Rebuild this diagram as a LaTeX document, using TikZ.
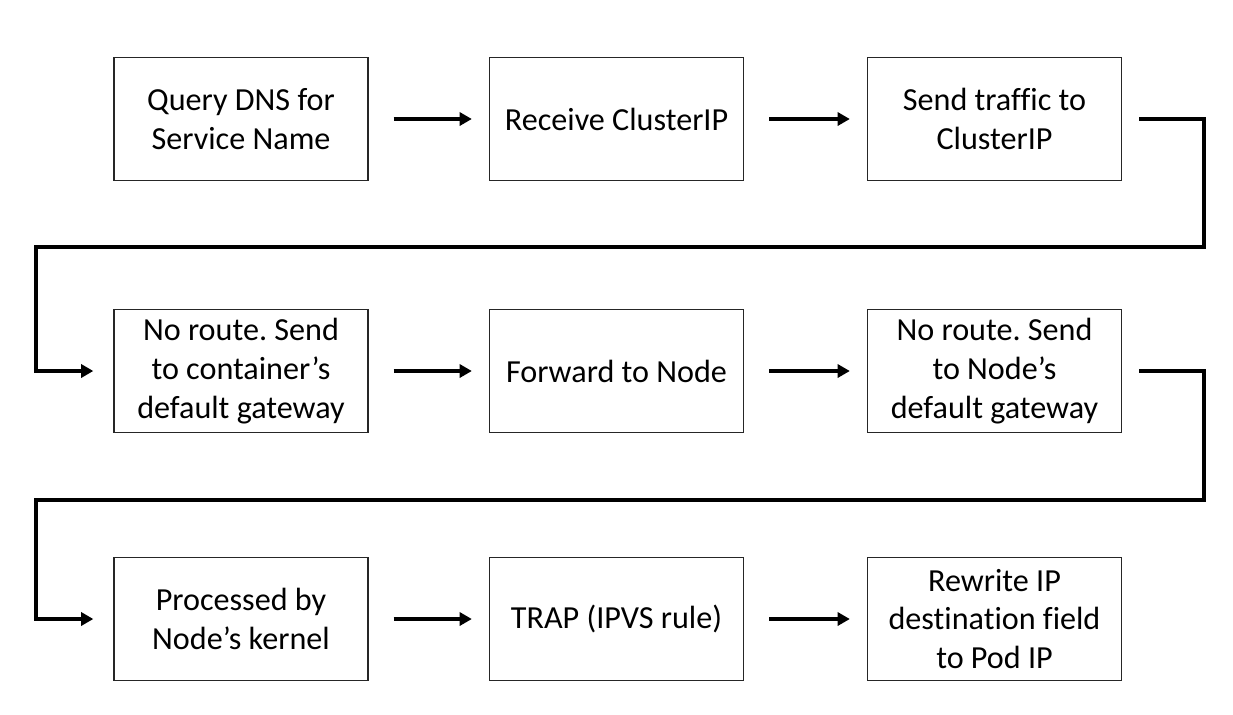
\documentclass[tikz,border=0pt]{standalone}
\usepackage{fontspec}
\setmainfont[Ligatures=CommonOff]{Carlito}
\usetikzlibrary{arrows.meta}
\frenchspacing
\begin{document}
\begin{tikzpicture}[x=0.02cm,y=-0.02cm,
  stepbox/.style={draw=black!85, line width=0.8pt, minimum width=5.08cm, minimum height=2.46cm,
    align=center, inner sep=0pt, font=\fontsize{18.3}{22}\selectfont},
  flow/.style={line width=2.4pt, -{Triangle[length=7pt,width=7.5pt]}, shorten <=0.5cm, shorten >=0.34cm},
  elbow/.style={line width=2.4pt, -{Triangle[length=7pt,width=7.5pt]}, shorten <=0.34cm, shorten >=0.4cm, line join=miter}]
\useasboundingbox (0,0) rectangle (1233,714);
\node[stepbox] (b1) at (241,119) {Query DNS for\\Service Name};
\node[stepbox] (b2) at (616.5,119) {Receive ClusterIP};
\node[stepbox] (b3) at (994.5,119) {Send traffic to\\ClusterIP};
\node[stepbox] (b4) at (241,371) {No route. Send\\to container’s\\default gateway};
\node[stepbox] (b5) at (616.5,371) {Forward to Node};
\node[stepbox] (b6) at (994.5,371) {No route. Send\\to Node’s\\default gateway};
\node[stepbox] (b7) at (241,619) {Processed by\\Node’s kernel};
\node[stepbox] (b8) at (616.5,619) {TRAP (IPVS rule)};
\node[stepbox] (b9) at (994.5,619) {Rewrite IP\\destination field\\to Pod IP};
\coordinate (c1) at (1204,247);
\coordinate (c2) at (36,247);
\coordinate (c3) at (1204,500);
\coordinate (c4) at (36,500);
\draw[flow] (b1) -- (b2);
\draw[flow] (b2) -- (b3);
\draw[flow] (b4) -- (b5);
\draw[flow] (b5) -- (b6);
\draw[flow] (b7) -- (b8);
\draw[flow] (b8) -- (b9);
\draw[elbow] (b3.east) -| (c1) -- (c2) |- (b4.west);
\draw[elbow] (b6.east) -| (c3) -- (c4) |- (b7.west);
\end{tikzpicture}
\end{document}
